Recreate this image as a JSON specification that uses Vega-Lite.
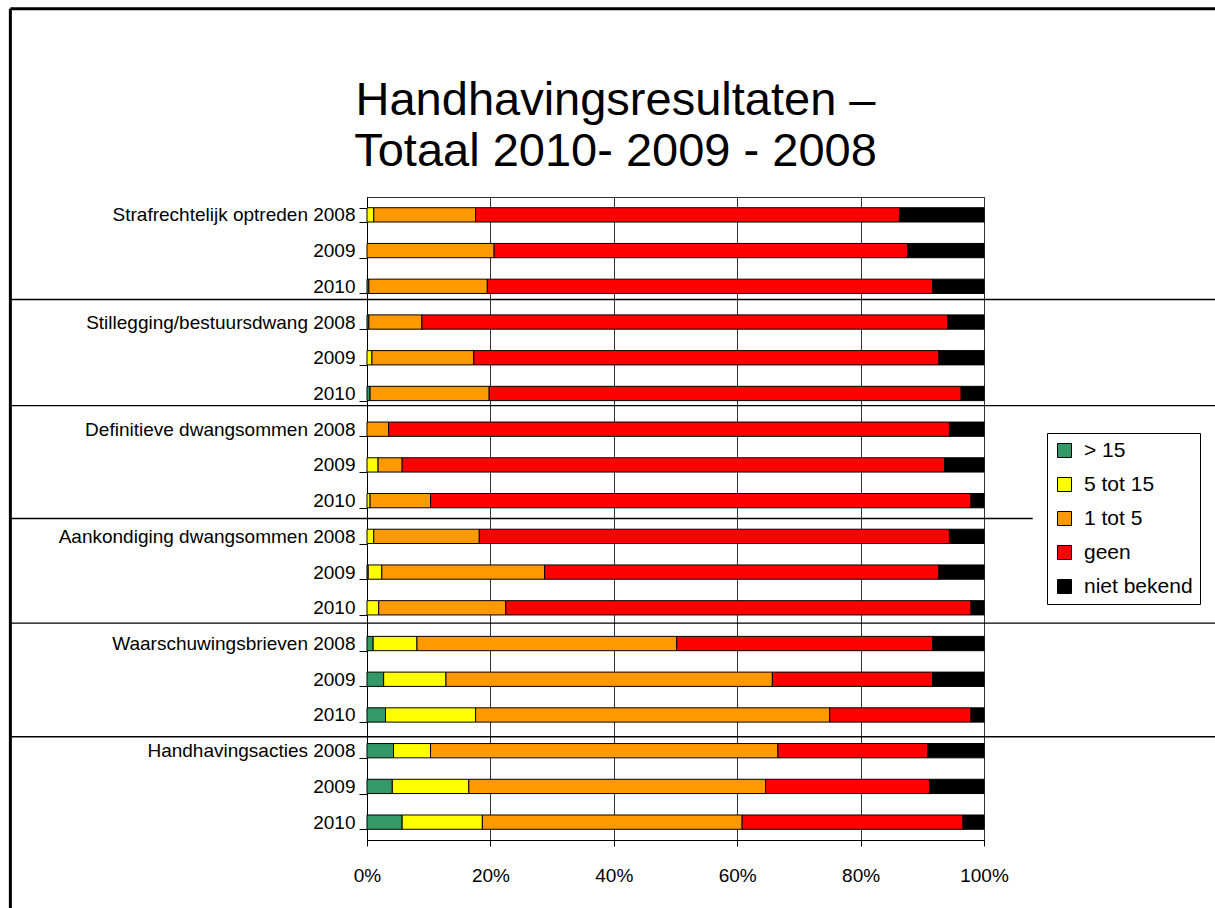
{
  "$schema": "https://vega.github.io/schema/vega-lite/v6.json",
  "width": 617,
  "height": 643,
  "autosize": {"type": "none"},
  "padding": {"left": 367, "top": 197, "right": 231, "bottom": 68},
  "background": "white",
  "config": {
    "font": "Liberation Sans",
    "view": {"stroke": "#333", "strokeWidth": 1},
    "axisX": {
      "title": null,
      "labelFlush": false,
      "grid": true,
      "gridColor": "#333",
      "gridOpacity": 1,
      "gridWidth": 1,
      "tickSize": 6,
      "tickColor": "#000",
      "domainColor": "#000",
      "labelPadding": 20,
      "labelFontSize": 19,
      "labelFont": "Liberation Sans",
      "labelColor": "#000"
    }
  },
  "title": {
    "text": ["Handhavingsresultaten –", "Totaal 2010- 2009 - 2008"],
    "fontSize": 47,
    "font": "Liberation Sans",
    "fontWeight": "normal",
    "color": "#000",
    "lineHeight": 51,
    "anchor": "middle",
    "frame": "group",
    "dx": -60,
    "offset": -169
  },
  "datasets": {
    "cats": [
      {"key": "> 15", "n": 1},
      {"key": "5 tot 15", "n": 2},
      {"key": "1 tot 5", "n": 3},
      {"key": "geen", "n": 4},
      {"key": "niet bekend", "n": 5}
    ],
    "bars": [
      {"row": "01|Strafrechtelijk optreden 2008", "> 15": 0, "5 tot 15": 1.1, "1 tot 5": 16.5, "geen": 68.7, "niet bekend": 13.7},
      {"row": "02|2009", "> 15": 0, "5 tot 15": 0, "1 tot 5": 20.6, "geen": 67.0, "niet bekend": 12.4},
      {"row": "03|2010", "> 15": 0.3, "5 tot 15": 0, "1 tot 5": 19.2, "geen": 72.2, "niet bekend": 8.3},
      {"row": "04|Stillegging/bestuursdwang 2008", "> 15": 0.3, "5 tot 15": 0, "1 tot 5": 8.6, "geen": 85.2, "niet bekend": 5.9},
      {"row": "05|2009", "> 15": 0, "5 tot 15": 0.8, "1 tot 5": 16.5, "geen": 75.4, "niet bekend": 7.3},
      {"row": "06|2010", "> 15": 0.5, "5 tot 15": 0, "1 tot 5": 19.3, "geen": 76.5, "niet bekend": 3.7},
      {"row": "07|Definitieve dwangsommen 2008", "> 15": 0, "5 tot 15": 0, "1 tot 5": 3.5, "geen": 90.9, "niet bekend": 5.6},
      {"row": "08|2009", "> 15": 0, "5 tot 15": 1.8, "1 tot 5": 3.9, "geen": 87.9, "niet bekend": 6.4},
      {"row": "09|2010", "> 15": 0, "5 tot 15": 0.5, "1 tot 5": 9.8, "geen": 87.6, "niet bekend": 2.1},
      {"row": "10|Aankondiging dwangsommen 2008", "> 15": 0, "5 tot 15": 1.1, "1 tot 5": 17.1, "geen": 76.2, "niet bekend": 5.6},
      {"row": "11|2009", "> 15": 0.2, "5 tot 15": 2.2, "1 tot 5": 26.4, "geen": 63.9, "niet bekend": 7.3},
      {"row": "12|2010", "> 15": 0, "5 tot 15": 1.9, "1 tot 5": 20.6, "geen": 75.4, "niet bekend": 2.1},
      {"row": "13|Waarschuwingsbrieven 2008", "> 15": 1.0, "5 tot 15": 7.1, "1 tot 5": 42.1, "geen": 41.5, "niet bekend": 8.3},
      {"row": "14|2009", "> 15": 2.7, "5 tot 15": 10.1, "1 tot 5": 52.9, "geen": 26.0, "niet bekend": 8.3},
      {"row": "15|2010", "> 15": 3.0, "5 tot 15": 14.6, "1 tot 5": 57.4, "geen": 22.9, "niet bekend": 2.1},
      {"row": "16|Handhavingsacties 2008", "> 15": 4.3, "5 tot 15": 6.0, "1 tot 5": 56.3, "geen": 24.3, "niet bekend": 9.1},
      {"row": "17|2009", "> 15": 4.1, "5 tot 15": 12.4, "1 tot 5": 48.1, "geen": 26.6, "niet bekend": 8.8},
      {"row": "18|2010", "> 15": 5.7, "5 tot 15": 13.0, "1 tot 5": 42.1, "geen": 35.8, "niet bekend": 3.4}
    ],
    "seps": [
      {"x1": -0.578, "x2": 1.38, "y": 2.87},
      {"x1": -0.578, "x2": 1.38, "y": 5.84},
      {"x1": -0.578, "x2": 1.079, "y": 9.0},
      {"x1": -0.578, "x2": 1.38, "y": 11.93},
      {"x1": -0.578, "x2": 1.38, "y": 15.11}
    ],
    "frame": [
      {"x1": -0.578, "x2": 1.38, "y1": -5.27, "y2": -5.27},
      {"x1": -0.578, "x2": -0.578, "y1": -5.27, "y2": 20.5}
    ]
  },
  "layer": [
    {
      "data": {"name": "bars"},
      "transform": [
        {"fold": ["> 15", "5 tot 15", "1 tot 5", "geen", "niet bekend"], "as": ["key", "value"]},
        {"filter": "datum.value > 0"},
        {"lookup": "key", "from": {"data": {"name": "cats"}, "key": "key", "fields": ["n"]}}
      ],
      "mark": {"type": "bar", "stroke": "#000", "strokeWidth": 1},
      "encoding": {
        "y": {
          "field": "row",
          "type": "nominal",
          "sort": "ascending",
          "scale": {"paddingInner": 0.6, "paddingOuter": 0.3},
          "axis": {
            "title": null,
            "labelExpr": "split(datum.value, '|')[1]",
            "tickBand": "extent",
            "tickSize": 8,
            "labelPadding": 4,
            "labelFontSize": 19,
            "labelFont": "Liberation Sans",
            "labelColor": "#000",
            "labelLimit": 400,
            "domainColor": "#000",
            "tickColor": "#000",
            "grid": false
          }
        },
        "x": {
          "field": "value",
          "type": "quantitative",
          "stack": "normalize",
          "scale": {"domain": [0, 1], "nice": false},
          "title": null,
          "axis": {
            "title": null,
            "values": [0, 0.2, 0.4, 0.6, 0.8, 1],
            "format": ".0%",
            "labelFlush": false
          }
        },
        "color": {
          "field": "key",
          "type": "nominal",
          "scale": {
            "domain": ["> 15", "5 tot 15", "1 tot 5", "geen", "niet bekend"],
            "range": ["#339966", "#FFFF00", "#FF9900", "#FF0000", "#000000"]
          },
          "legend": {
            "title": null,
            "orient": "none",
            "legendX": 680,
            "legendY": 236,
            "strokeColor": "#000",
            "fillColor": "#fff",
            "padding": 7,
            "symbolType": "square",
            "symbolSize": 196,
            "symbolStrokeColor": "#000",
            "symbolStrokeWidth": 1,
            "symbolOpacity": 1,
            "labelFontSize": 21,
            "labelFont": "Liberation Sans",
            "labelColor": "#000",
            "labelOffset": 9,
            "rowPadding": 12
          }
        },
        "order": {"field": "n", "type": "quantitative"}
      }
    },
    {
      "data": {"name": "seps"},
      "mark": {"type": "rule", "stroke": "#000", "strokeWidth": 1.3},
      "encoding": {
        "x": {"field": "x1", "type": "quantitative", "scale": {"domain": [0, 1], "nice": false}, "title": null},
        "x2": {"field": "x2"},
        "y": {"field": "y", "type": "quantitative", "scale": {"domain": [0, 18], "reverse": true, "nice": false, "zero": false}, "axis": null}
      }
    },
    {
      "data": {"name": "frame"},
      "mark": {"type": "rule", "stroke": "#000", "strokeWidth": 3},
      "encoding": {
        "x": {"field": "x1", "type": "quantitative", "scale": {"domain": [0, 1], "nice": false}, "title": null},
        "x2": {"field": "x2"},
        "y": {"field": "y1", "type": "quantitative", "scale": {"domain": [0, 18], "reverse": true, "nice": false, "zero": false}, "axis": null},
        "y2": {"field": "y2"}
      }
    }
  ],
  "resolve": {"scale": {"y": "independent"}}
}
